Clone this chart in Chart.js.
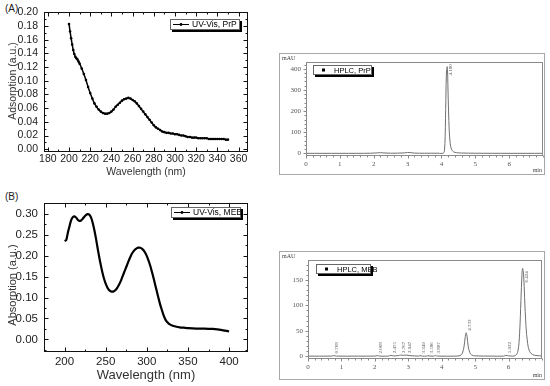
<!DOCTYPE html>
<html>
<head>
<meta charset="utf-8">
<script src="https://cdn.jsdelivr.net/npm/chart.js@4.4.0/dist/chart.umd.min.js"></script>
<style>
  html, body { margin: 0; padding: 0; background: #fff; }
  body { width: 550px; height: 386px; position: relative; overflow: hidden; font-family: "Liberation Sans", Arial, sans-serif; }
  .panel { position: absolute; }
  .box { position: absolute; border: 1px solid #a8a8a8; box-sizing: border-box; }
  .tag { position: absolute; font-size: 10px; color: #222; }
</style>
</head>
<body>
<div class="tag" style="left:5px;top:3px">(A)</div>
<div class="tag" style="left:5px;top:191px">(B)</div>
<div class="panel" style="left:0;top:0;width:275px;height:190px"><canvas id="uvPrP"></canvas></div>
<div class="panel" style="left:0;top:190px;width:275px;height:196px"><canvas id="uvMEB"></canvas></div>
<div class="box" style="left:279px;top:53px;width:266px;height:122px"></div>
<div class="panel" style="left:279px;top:53px;width:266px;height:122px"><canvas id="hplcPrP"></canvas></div>
<div class="box" style="left:279px;top:251px;width:266px;height:129px"></div>
<div class="panel" style="left:279px;top:251px;width:266px;height:129px"><canvas id="hplcMEB"></canvas></div>
<script>
// UV-Vis, PrP
const prpWavelength = [200, 201, 202, 203, 204, 205, 206, 207, 208, 209, 210, 212, 214, 216, 218, 220, 222, 224, 226, 228,
  230, 232, 234, 236, 238, 240, 242, 244, 246, 248, 250, 252, 254, 256, 258, 260, 262, 264, 266, 268,
  270, 272, 274, 276, 278, 280, 282, 284, 286, 288, 290, 292, 294, 296, 298, 300, 302, 304, 306, 308,
  310, 312, 314, 316, 318, 320, 322, 324, 326, 328, 330, 332, 334, 336, 338, 340, 342, 344, 346, 348, 350];
const prpAbsorption = [0.183, 0.172, 0.162, 0.153, 0.145, 0.139, 0.135, 0.133, 0.131, 0.128, 0.125, 0.118, 0.110, 0.101, 0.091, 0.082, 0.074, 0.067, 0.062, 0.058,
  0.055, 0.053, 0.052, 0.052, 0.053, 0.055, 0.058, 0.062, 0.065, 0.068, 0.071, 0.073, 0.074, 0.075, 0.074, 0.072, 0.070, 0.067, 0.063, 0.059,
  0.055, 0.051, 0.047, 0.043, 0.039, 0.035, 0.032, 0.030, 0.028, 0.026, 0.025, 0.024, 0.024, 0.023, 0.023, 0.022, 0.022, 0.021, 0.020, 0.020,
  0.019, 0.018, 0.018, 0.017, 0.017, 0.017, 0.016, 0.016, 0.016, 0.016, 0.016, 0.015, 0.015, 0.015, 0.015, 0.015, 0.015, 0.015, 0.015, 0.014, 0.014];
const prpTicksX = [180, 200, 220, 240, 260, 280, 300, 320, 340, 360];
const prpTicksY = [0, 0.02, 0.04, 0.06, 0.08, 0.10, 0.12, 0.14, 0.16, 0.18, 0.20];

// UV-Vis, MEB
const mebWavelength = [200, 202, 204, 206, 208, 210, 212, 214, 216, 218, 220, 222, 224, 226, 228, 230, 232, 234, 236, 238,
  240, 242, 244, 246, 248, 250, 252, 254, 256, 258, 260, 262, 264, 266, 268, 270, 272, 274, 276, 278,
  280, 282, 284, 286, 288, 290, 292, 294, 296, 298, 300, 302, 304, 306, 308, 310, 312, 314, 316, 318,
  320, 322, 324, 326, 328, 330, 335, 340, 345, 350, 360, 370, 380, 390, 400];
const mebAbsorption = [0.235, 0.237, 0.255, 0.270, 0.285, 0.292, 0.294, 0.291, 0.286, 0.283, 0.284, 0.288, 0.293, 0.297, 0.299, 0.298, 0.292, 0.280, 0.263, 0.243,
  0.220, 0.198, 0.178, 0.160, 0.145, 0.133, 0.124, 0.118, 0.115, 0.114, 0.115, 0.118, 0.123, 0.130, 0.138, 0.148, 0.158, 0.168, 0.178, 0.188,
  0.197, 0.205, 0.211, 0.215, 0.218, 0.219, 0.219, 0.217, 0.213, 0.207, 0.199, 0.189, 0.177, 0.163, 0.148, 0.132, 0.116, 0.100, 0.085, 0.072,
  0.060, 0.050, 0.043, 0.039, 0.036, 0.034, 0.031, 0.029, 0.028, 0.027, 0.026, 0.026, 0.025, 0.023, 0.019];
const mebTicksX = [200, 250, 300, 350, 400];
const mebTicksY = [0, 0.05, 0.10, 0.15, 0.20, 0.25, 0.30];

// HPLC, PrP
const prpTime = [0, 0.5, 1.0, 1.5, 1.9, 2.1, 2.2, 2.3, 2.5, 2.9, 3.0, 3.1, 3.2, 3.5, 3.9, 4.06, 4.09, 4.11, 4.13, 4.15, 4.17,
  4.18, 4.19, 4.21, 4.23, 4.26, 4.30, 4.36, 4.45, 4.6, 5.0, 6.0, 7.0];
const prpSignal = [0, 0, 0, 0, 0.5, 2, 3, 2, 0.5, 2, 4, 3, 1, 0.5, 0.5, 1, 15, 80, 250, 390, 410,
  395, 330, 200, 110, 45, 18, 7, 3, 1.5, 0.5, 0, 0];
const prpPeakTimes = [4.18];
const prpPeakLabels = ['4.180'];
const hplcTicksX = [0, 1, 2, 3, 4, 5, 6];
const prpTicksSignal = [0, 100, 200, 300, 400];

// HPLC, MEB
const mebTime = [0, 0.7, 0.77, 0.85, 1.5, 2.0, 2.07, 2.15, 2.4, 2.48, 2.55, 2.7, 2.77, 2.85, 2.95, 3.05, 3.3, 3.35, 3.42, 3.55,
  3.59, 3.65, 3.75, 3.81, 3.88, 4.4, 4.55, 4.62, 4.67, 4.70, 4.73, 4.76, 4.79, 4.84, 4.90, 5.0, 5.5, 5.85, 5.92, 6.0,
  6.2, 6.28, 6.33, 6.37, 6.40, 6.42, 6.45, 6.48, 6.52, 6.57, 6.63, 6.72, 6.85, 7.0];
const mebSignal = [0, 0, 1, 0, 0, 0, 1, 0, 0, 1.5, 0.5, 1, 2, 1.5, 2, 1, 0, 1, 0, 0,
  1, 0, 0, 1, 0, 0, 1, 6, 20, 36, 46, 38, 20, 7, 2, 0.5, 0, 0, 1.5, 0.5,
  1, 10, 45, 110, 160, 173, 160, 115, 60, 25, 9, 3, 1, 0.5];
const mebPeakTimes = [0.768, 2.068, 2.475, 2.767, 2.947, 3.349, 3.586, 3.807, 4.733, 5.922, 6.424];
const mebPeakLabels = ['0.768', '2.068', '2.475', '2.767', '2.947', '3.349', '3.586', '3.807', '4.733', '5.922', '6.424'];
const mebTicksSignal = [0, 50, 100, 150];

Chart.defaults.font.family = '"Liberation Sans", Arial, sans-serif';
Chart.defaults.color = '#222';
Chart.defaults.animation = false;

// frame, ticks, legend and labels drawn over each panel
const panelPlugin = {
  id: 'panel',
  afterDraw(chart, args, o) {
    const ctx = chart.ctx;
    const a = chart.chartArea;
    const xs = chart.scales.x, ys = chart.scales.y;
    const L = Math.round(a.left) + 0.5, R = Math.round(a.right) - 0.5;
    const T = Math.round(a.top) + 0.5, B = Math.round(a.bottom) - 0.5;
    ctx.save();
    ctx.strokeStyle = o.frame;
    ctx.lineWidth = 1;
    ctx.strokeRect(L, T, R - L, B - T);

    const dir = o.tickDir === 'in' ? -1 : 1;
    const mark = (scale, v, len) => {
      if (v < scale.min || v > scale.max) return;
      const p = Math.round(scale.getPixelForValue(v)) + 0.5;
      ctx.beginPath();
      if (scale.isHorizontal()) {
        ctx.moveTo(p, B); ctx.lineTo(p, B + dir * len);
        if (o.mirror) { ctx.moveTo(p, T); ctx.lineTo(p, T + len); }
      } else {
        ctx.moveTo(L, p); ctx.lineTo(L - dir * len, p);
        if (o.mirror) { ctx.moveTo(R, p); ctx.lineTo(R - len, p); }
      }
      ctx.stroke();
    };
    [[xs, o.xMinor], [ys, o.yMinor]].forEach(([s, step]) => {
      s.ticks.forEach(t => mark(s, t.value, o.major));
      for (let i = Math.ceil(s.min / step); i * step <= s.max; i++) mark(s, i * step, o.minor);
    });

    if (o.yTitle) {
      ctx.save();
      ctx.translate(o.yTitle.x, o.yTitle.y);
      ctx.rotate(-Math.PI / 2);
      ctx.font = o.yTitle.font;
      ctx.fillStyle = '#333';
      ctx.textAlign = 'center';
      ctx.textBaseline = 'middle';
      ctx.fillText(o.yTitle.text, 0, 0);
      ctx.restore();
    }

    if (o.legend) {
      const g = o.legend;
      ctx.fillStyle = '#000';
      ctx.fillRect(g.x + 2, g.y + 2, g.w, g.h);
      ctx.fillStyle = '#fff';
      ctx.fillRect(g.x, g.y, g.w, g.h);
      ctx.strokeStyle = '#666';
      ctx.strokeRect(g.x + 0.5, g.y + 0.5, g.w - 1, g.h - 1);
      const cy = g.y + g.h / 2;
      ctx.fillStyle = '#000';
      ctx.strokeStyle = '#000';
      if (g.marker === 'line') {
        ctx.beginPath(); ctx.moveTo(g.x + 3, cy); ctx.lineTo(g.x + 19, cy); ctx.stroke();
        ctx.beginPath(); ctx.arc(g.x + 11, cy, 1.4, 0, 2 * Math.PI); ctx.fill();
      } else {
        ctx.fillRect(g.x + 9, cy - 1.5, 3, 3);
      }
      ctx.font = g.font;
      ctx.textAlign = 'left';
      ctx.textBaseline = 'middle';
      ctx.fillText(g.text, g.x + g.tx, cy + 0.5);
    }

    if (o.peaks) {
      const pts = chart.data.datasets[0].data;
      ctx.font = '5px "Liberation Serif", serif';
      ctx.fillStyle = '#555';
      o.peaks.times.forEach((t, i) => {
        const text = o.peaks.texts[i];
        const w = ctx.measureText(text).width;
        let top = 0;
        pts.forEach(p => { if (Math.abs(p.x - t) < 0.06 && p.y > top) top = p.y; });
        const base = Math.max(ys.getPixelForValue(top) - 2, a.top + o.peaks.gap + w);
        ctx.save();
        ctx.translate(xs.getPixelForValue(t) + 3.5, base);
        ctx.rotate(-Math.PI / 2);
        ctx.textAlign = 'left';
        ctx.textBaseline = 'middle';
        ctx.fillText(text, 0, 0);
        ctx.restore();
      });
    }

    if (o.units) {
      ctx.font = '6px "Liberation Serif", serif';
      ctx.fillStyle = '#444';
      ctx.textBaseline = 'alphabetic';
      ctx.textAlign = 'left';
      ctx.fillText(o.units[0], 3, 7);
      ctx.textAlign = 'right';
      ctx.fillText(o.units[1], chart.width - 3, chart.height - 3);
    }
    ctx.restore();
  }
};

function points(xv, yv) {
  return xv.map((x, i) => ({ x: x, y: yv[i] }));
}

function fixedTicks(list) {
  return s => { s.ticks = list.map(v => ({ value: v })); };
}

function uvChart(id, xv, yv, cfg) {
  return new Chart(document.getElementById(id), {
    type: 'line',
    data: {
      datasets: [{
        data: points(xv, yv),
        borderColor: '#000',
        backgroundColor: '#000',
        borderWidth: cfg.lineWidth,
        pointRadius: cfg.pointRadius,
        pointBorderWidth: 0,
        tension: 0.3
      }]
    },
    options: {
      responsive: true,
      maintainAspectRatio: false,
      layout: { padding: { left: 0, top: 7, right: 27, bottom: 0 } },
      plugins: {
        legend: { display: false },
        tooltip: { enabled: false },
        panel: {
          frame: '#111', tickDir: 'in', mirror: true, major: 4, minor: 2,
          xMinor: cfg.xMinor, yMinor: cfg.yMinor,
          yTitle: cfg.yTitle, legend: cfg.legend
        }
      },
      scales: {
        x: {
          type: 'linear', min: cfg.xMin, max: cfg.xMax,
          afterBuildTicks: fixedTicks(cfg.xTicks),
          afterFit: s => { s.height = cfg.xHeight; },
          grid: { display: false, drawTicks: false }, border: { display: false },
          ticks: { font: { size: cfg.tickSize }, color: '#222', padding: cfg.xPad, autoSkip: false, maxRotation: 0 },
          title: { display: true, text: 'Wavelength (nm)', color: '#333', font: { size: cfg.titleSize }, padding: { top: 0, bottom: cfg.titlePad } }
        },
        y: {
          min: cfg.yMin, max: cfg.yMax,
          afterBuildTicks: fixedTicks(cfg.yTicks),
          afterFit: s => { s.width = 44; },
          grid: { display: false, drawTicks: false }, border: { display: false },
          ticks: { font: { size: cfg.tickSize }, color: '#222', padding: 6, autoSkip: false, callback: v => v.toFixed(2) }
        }
      }
    },
    plugins: [panelPlugin]
  });
}

function hplcChart(id, xv, yv, cfg) {
  return new Chart(document.getElementById(id), {
    type: 'line',
    data: {
      datasets: [{
        data: points(xv, yv),
        borderColor: '#707070',
        borderWidth: 1,
        pointRadius: 0,
        tension: 0.35
      }]
    },
    options: {
      responsive: true,
      maintainAspectRatio: false,
      layout: { padding: cfg.padding },
      plugins: {
        legend: { display: false },
        tooltip: { enabled: false },
        panel: {
          frame: '#8a8a8a', tickDir: 'out', mirror: false, major: 3, minor: 2,
          xMinor: 0.2, yMinor: cfg.yMinor,
          legend: cfg.legend, peaks: cfg.peaks, units: ['mAU', 'min']
        }
      },
      scales: {
        x: {
          type: 'linear', min: 0, max: 7,
          afterBuildTicks: fixedTicks(hplcTicksX),
          afterFit: s => { s.height = cfg.xHeight; },
          grid: { display: false, drawTicks: false }, border: { display: false },
          ticks: { font: { size: 7, family: '"Liberation Serif", serif' }, color: '#555', padding: 4, autoSkip: false, maxRotation: 0 }
        },
        y: {
          min: cfg.yMin, max: cfg.yMax,
          afterBuildTicks: fixedTicks(cfg.yTicks),
          afterFit: s => { s.width = cfg.yWidth; },
          grid: { display: false, drawTicks: false }, border: { display: false },
          ticks: { font: { size: 7, family: '"Liberation Serif", serif' }, color: '#555', padding: 5, autoSkip: false }
        }
      }
    },
    plugins: [panelPlugin]
  });
}

uvChart('uvPrP', prpWavelength, prpAbsorption, {
  xMin: 176.4, xMax: 368.9, yMin: -0.004, yMax: 0.2,
  xTicks: prpTicksX, yTicks: prpTicksY, xMinor: 10, yMinor: 0.01,
  xHeight: 38, tickSize: 10.5, xPad: 1, titleSize: 10.5, titlePad: 12,
  lineWidth: 1.5, pointRadius: 1.3,
  yTitle: { text: 'Adsorption (a.u.)', x: 13, y: 81, font: '10.5px "Liberation Sans", Arial, sans-serif' },
  legend: { x: 170, y: 19, w: 70, h: 11, tx: 22, text: 'UV-Vis, PrP', marker: 'line', font: '8.5px "Liberation Sans", Arial, sans-serif' }
});

uvChart('uvMEB', mebWavelength, mebAbsorption, {
  xMin: 175, xMax: 423, yMin: -0.03, yMax: 0.326,
  xTicks: mebTicksX, yTicks: mebTicksY, xMinor: 25, yMinor: 0.025,
  xHeight: 34, tickSize: 11.5, xPad: 3, titleSize: 13, titlePad: 3,
  lineWidth: 2.2, pointRadius: 0,
  yTitle: { text: 'Absorption (a.u.)', x: 13, y: 95, font: '11px "Liberation Sans", Arial, sans-serif' },
  legend: { x: 171, y: 17, w: 70, h: 11, tx: 22, text: 'UV-Vis, MEB', marker: 'line', font: '8.5px "Liberation Sans", Arial, sans-serif' }
});

hplcChart('hplcPrP', prpTime, prpSignal, {
  padding: { left: 0, top: 7, right: 2, bottom: 0 },
  yMin: -12.6, yMax: 431, yTicks: prpTicksSignal, yMinor: 20,
  xHeight: 19, yWidth: 27,
  legend: { x: 34, y: 12, w: 59, h: 10, tx: 21, text: 'HPLC, PrP', marker: 'square', font: '7.5px "Liberation Sans", Arial, sans-serif' },
  peaks: { times: prpPeakTimes, texts: prpPeakLabels, gap: 2 }
});

hplcChart('hplcMEB', mebTime, mebSignal, {
  padding: { left: 0, top: 6, right: 3, bottom: 0 },
  yMin: -5.7, yMax: 189, yTicks: mebTicksSignal, yMinor: 10,
  xHeight: 21, yWidth: 29,
  legend: { x: 37, y: 13, w: 55, h: 10, tx: 21, text: 'HPLC, MEB', marker: 'square', font: '7.5px "Liberation Sans", Arial, sans-serif' },
  peaks: { times: mebPeakTimes, texts: mebPeakLabels, gap: 11 }
});
</script>
</body>
</html>
